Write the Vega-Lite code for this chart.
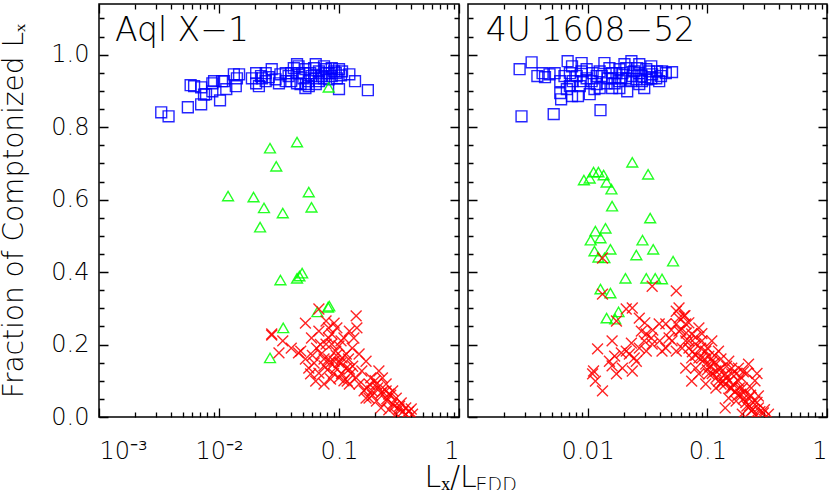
{
"$schema": "https://vega.github.io/schema/vega-lite/v6.json",
"padding": {"left": 0, "top": 3, "right": 2, "bottom": 0},
"background": "white",
"spacing": 9,
"bounds": "flush",
"datasets": {
"aql": [
{"x":0.0033,"y":0.841,"g":"s"},{"x":0.0038,"y":0.830,"g":"s"},{"x":0.0055,"y":0.855,"g":"s"},{"x":0.0071,"y":0.863,"g":"s"},{"x":0.0102,"y":0.874,"g":"s"},
{"x":0.0062,"y":0.913,"g":"s"},{"x":0.0071,"y":0.910,"g":"s"},{"x":0.0078,"y":0.891,"g":"s"},{"x":0.0088,"y":0.899,"g":"s"},{"x":0.0088,"y":0.921,"g":"s"},
{"x":0.011,"y":0.927,"g":"s"},{"x":0.0115,"y":0.905,"g":"s"},{"x":0.0138,"y":0.913,"g":"s"},{"x":0.0133,"y":0.946,"g":"s"},{"x":0.0147,"y":0.946,"g":"s"},
{"x":0.0141,"y":0.935,"g":"s"},{"x":0.0075,"y":0.890,"g":"s"},{"x":0.0058,"y":0.916,"g":"s"},{"x":0.0204,"y":0.949,"g":"s"},{"x":0.0204,"y":0.921,"g":"s"},
{"x":0.0215,"y":0.913,"g":"s"},{"x":0.0228,"y":0.935,"g":"s"},{"x":0.0245,"y":0.949,"g":"s"},{"x":0.0275,"y":0.960,"g":"s"},{"x":0.0296,"y":0.932,"g":"s"},
{"x":0.0325,"y":0.946,"g":"s"},{"x":0.036,"y":0.949,"g":"s"},{"x":0.038,"y":0.941,"g":"s"},{"x":0.040,"y":0.927,"g":"s"},{"x":0.042,"y":0.963,"g":"s"},
{"x":0.0447,"y":0.974,"g":"s"},{"x":0.046,"y":0.949,"g":"s"},{"x":0.0478,"y":0.919,"g":"s"},{"x":0.0505,"y":0.935,"g":"s"},{"x":0.0525,"y":0.960,"g":"s"},
{"x":0.053,"y":0.919,"g":"s"},{"x":0.0575,"y":0.949,"g":"s"},{"x":0.062,"y":0.963,"g":"s"},{"x":0.064,"y":0.935,"g":"s"},{"x":0.068,"y":0.954,"g":"s"},
{"x":0.072,"y":0.941,"g":"s"},{"x":0.078,"y":0.960,"g":"s"},{"x":0.082,"y":0.949,"g":"s"},{"x":0.087,"y":0.963,"g":"s"},{"x":0.094,"y":0.949,"g":"s"},
{"x":0.1,"y":0.960,"g":"s"},{"x":0.104,"y":0.943,"g":"s"},{"x":0.1,"y":0.905,"g":"s"},{"x":0.122,"y":0.946,"g":"s"},{"x":0.136,"y":0.927,"g":"s"},
{"x":0.174,"y":0.902,"g":"s"},{"x":0.036,"y":0.927,"g":"s"},{"x":0.0316,"y":0.921,"g":"s"},{"x":0.0245,"y":0.927,"g":"s"},{"x":0.0188,"y":0.935,"g":"s"},
{"x":0.0224,"y":0.941,"g":"s"},{"x":0.026,"y":0.938,"g":"s"},{"x":0.056,"y":0.927,"g":"s"},{"x":0.068,"y":0.927,"g":"s"},{"x":0.082,"y":0.932,"g":"s"},
{"x":0.087,"y":0.941,"g":"s"},{"x":0.096,"y":0.935,"g":"s"},{"x":0.064,"y":0.974,"g":"s"},{"x":0.075,"y":0.968,"g":"s"},{"x":0.046,"y":0.968,"g":"s"},
{"x":0.040,"y":0.949,"g":"s"},{"x":0.0505,"y":0.949,"g":"s"},{"x":0.059,"y":0.941,"g":"s"},{"x":0.079,"y":0.949,"g":"s"},{"x":0.091,"y":0.954,"g":"s"},
{"x":0.106,"y":0.954,"g":"s"},{"x":0.075,"y":0.935,"g":"s"},{"x":0.0447,"y":0.921,"g":"s"},{"x":0.056,"y":0.913,"g":"s"},{"x":0.064,"y":0.919,"g":"s"},
{"x":0.0525,"y":0.908,"g":"s"},{"x":0.0091,"y":0.927,"g":"s"},{"x":0.0106,"y":0.927,"g":"s"},
{"x":0.082,"y":0.910,"g":"t"},{"x":0.0266,"y":0.742,"g":"t"},{"x":0.0447,"y":0.759,"g":"t"},{"x":0.030,"y":0.692,"g":"t"},{"x":0.0119,"y":0.610,"g":"t"},
{"x":0.0194,"y":0.607,"g":"t"},{"x":0.0237,"y":0.577,"g":"t"},{"x":0.034,"y":0.563,"g":"t"},{"x":0.022,"y":0.524,"g":"t"},{"x":0.056,"y":0.621,"g":"t"},
{"x":0.059,"y":0.579,"g":"t"},{"x":0.0325,"y":0.378,"g":"t"},{"x":0.0447,"y":0.383,"g":"t"},{"x":0.0468,"y":0.389,"g":"t"},{"x":0.0493,"y":0.397,"g":"t"},
{"x":0.066,"y":0.290,"g":"t"},{"x":0.081,"y":0.303,"g":"t"},{"x":0.083,"y":0.306,"g":"t"},{"x":0.0343,"y":0.246,"g":"t"},{"x":0.0266,"y":0.163,"g":"t"},
{"x":0.0275,"y":0.229,"g":"x"},{"x":0.034,"y":0.210,"g":"x"},{"x":0.0316,"y":0.177,"g":"x"},{"x":0.040,"y":0.190,"g":"x"},{"x":0.0525,"y":0.259,"g":"x"},
{"x":0.068,"y":0.298,"g":"x"},{"x":0.048,"y":0.182,"g":"x"},{"x":0.059,"y":0.218,"g":"x"},{"x":0.068,"y":0.237,"g":"x"},{"x":0.082,"y":0.246,"g":"x"},
{"x":0.096,"y":0.246,"g":"x"},{"x":0.087,"y":0.229,"g":"x"},{"x":0.078,"y":0.201,"g":"x"},{"x":0.071,"y":0.174,"g":"x"},{"x":0.062,"y":0.149,"g":"x"},
{"x":0.056,"y":0.135,"g":"x"},{"x":0.068,"y":0.121,"g":"x"},{"x":0.082,"y":0.160,"g":"x"},{"x":0.094,"y":0.182,"g":"x"},{"x":0.104,"y":0.210,"g":"x"},
{"x":0.094,"y":0.135,"g":"x"},{"x":0.085,"y":0.105,"g":"x"},{"x":0.075,"y":0.091,"g":"x"},{"x":0.104,"y":0.149,"g":"x"},{"x":0.115,"y":0.174,"g":"x"},
{"x":0.122,"y":0.132,"g":"x"},{"x":0.139,"y":0.279,"g":"x"},{"x":0.141,"y":0.246,"g":"x"},{"x":0.133,"y":0.218,"g":"x"},{"x":0.129,"y":0.190,"g":"x"},
{"x":0.147,"y":0.174,"g":"x"},{"x":0.168,"y":0.154,"g":"x"},{"x":0.139,"y":0.108,"g":"x"},{"x":0.117,"y":0.099,"g":"x"},{"x":0.1,"y":0.108,"g":"x"},
{"x":0.155,"y":0.127,"g":"x"},{"x":0.184,"y":0.108,"g":"x"},{"x":0.215,"y":0.127,"g":"x"},{"x":0.23,"y":0.108,"g":"x"},{"x":0.205,"y":0.091,"g":"x"},
{"x":0.17,"y":0.080,"g":"x"},{"x":0.247,"y":0.091,"g":"x"},{"x":0.224,"y":0.066,"g":"x"},{"x":0.26,"y":0.063,"g":"x"},{"x":0.30,"y":0.052,"g":"x"},
{"x":0.28,"y":0.036,"g":"x"},{"x":0.33,"y":0.039,"g":"x"},{"x":0.36,"y":0.025,"g":"x"},{"x":0.40,"y":0.022,"g":"x"},{"x":0.316,"y":0.022,"g":"x"},
{"x":0.224,"y":0.025,"g":"x"},{"x":0.25,"y":0.044,"g":"x"},{"x":0.36,"y":0.008,"g":"x"},{"x":0.41,"y":0.008,"g":"x"},{"x":0.30,"y":0.008,"g":"x"},
{"x":0.205,"y":0.044,"g":"x"},{"x":0.178,"y":0.052,"g":"x"},{"x":0.162,"y":0.072,"g":"x"},{"x":0.064,"y":0.099,"g":"x"},{"x":0.058,"y":0.119,"g":"x"},
{"x":0.0525,"y":0.160,"g":"x"},{"x":0.046,"y":0.177,"g":"x"},{"x":0.11,"y":0.218,"g":"x"},{"x":0.122,"y":0.237,"g":"x"},{"x":0.078,"y":0.265,"g":"x"},
{"x":0.091,"y":0.259,"g":"x"},{"x":0.106,"y":0.163,"g":"x"},{"x":0.115,"y":0.135,"g":"x"},{"x":0.075,"y":0.141,"g":"x"},{"x":0.091,"y":0.154,"g":"x"},
{"x":0.1,"y":0.196,"g":"x"},{"x":0.082,"y":0.218,"g":"x"},{"x":0.087,"y":0.201,"g":"x"},{"x":0.122,"y":0.091,"g":"x"},{"x":0.147,"y":0.091,"g":"x"},
{"x":0.168,"y":0.052,"g":"x"},{"x":0.28,"y":0.072,"g":"x"},{"x":0.247,"y":0.072,"g":"x"},{"x":0.188,"y":0.072,"g":"x"},{"x":0.0275,"y":0.226,"g":"x"},
{"x":0.07,"y":0.20,"g":"x"},{"x":0.075,"y":0.16,"g":"x"},{"x":0.08,"y":0.13,"g":"x"},{"x":0.085,"y":0.15,"g":"x"},{"x":0.09,"y":0.12,"g":"x"},
{"x":0.095,"y":0.17,"g":"x"},{"x":0.1,"y":0.15,"g":"x"},{"x":0.105,"y":0.12,"g":"x"},{"x":0.11,"y":0.10,"g":"x"},{"x":0.12,"y":0.16,"g":"x"},
{"x":0.125,"y":0.12,"g":"x"},{"x":0.13,"y":0.14,"g":"x"},{"x":0.065,"y":0.19,"g":"x"},{"x":0.06,"y":0.17,"g":"x"},{"x":0.20,"y":0.10,"g":"x"},
{"x":0.21,"y":0.08,"g":"x"},{"x":0.23,"y":0.07,"g":"x"},{"x":0.25,"y":0.05,"g":"x"},{"x":0.27,"y":0.06,"g":"x"},{"x":0.29,"y":0.03,"g":"x"},
{"x":0.32,"y":0.03,"g":"x"},{"x":0.34,"y":0.015,"g":"x"},{"x":0.38,"y":0.015,"g":"x"},{"x":0.26,"y":0.02,"g":"x"},{"x":0.19,"y":0.06,"g":"x"},
{"x":0.18,"y":0.09,"g":"x"}
],
"u1608": [
{"x":0.0027,"y":0.960,"g":"s"},{"x":0.0034,"y":0.979,"g":"s"},{"x":0.0028,"y":0.830,"g":"s"},{"x":0.0052,"y":0.836,"g":"s"},{"x":0.0128,"y":0.847,"g":"s"},
{"x":0.0038,"y":0.941,"g":"s"},{"x":0.0044,"y":0.938,"g":"s"},{"x":0.0053,"y":0.949,"g":"s"},{"x":0.0059,"y":0.927,"g":"s"},{"x":0.0059,"y":0.894,"g":"s"},
{"x":0.006,"y":0.877,"g":"s"},{"x":0.0068,"y":0.982,"g":"s"},{"x":0.0074,"y":0.968,"g":"s"},{"x":0.0071,"y":0.913,"g":"s"},{"x":0.0074,"y":0.886,"g":"s"},
{"x":0.0083,"y":0.886,"g":"s"},{"x":0.0089,"y":0.977,"g":"s"},{"x":0.0098,"y":0.960,"g":"s"},{"x":0.0104,"y":0.891,"g":"s"},{"x":0.0081,"y":0.941,"g":"s"},
{"x":0.0091,"y":0.927,"g":"s"},{"x":0.0108,"y":0.927,"g":"s"},{"x":0.0119,"y":0.941,"g":"s"},{"x":0.0114,"y":0.905,"g":"s"},{"x":0.0138,"y":0.977,"g":"s"},
{"x":0.0152,"y":0.963,"g":"s"},{"x":0.0144,"y":0.921,"g":"s"},{"x":0.016,"y":0.935,"g":"s"},{"x":0.0174,"y":0.949,"g":"s"},{"x":0.016,"y":0.908,"g":"s"},
{"x":0.0191,"y":0.935,"g":"s"},{"x":0.021,"y":0.963,"g":"s"},{"x":0.0214,"y":0.899,"g":"s"},{"x":0.0232,"y":0.982,"g":"s"},{"x":0.0245,"y":0.954,"g":"s"},
{"x":0.027,"y":0.974,"g":"s"},{"x":0.0255,"y":0.932,"g":"s"},{"x":0.0281,"y":0.941,"g":"s"},{"x":0.0297,"y":0.908,"g":"s"},{"x":0.0309,"y":0.960,"g":"s"},
{"x":0.034,"y":0.968,"g":"s"},{"x":0.0346,"y":0.946,"g":"s"},{"x":0.038,"y":0.954,"g":"s"},{"x":0.041,"y":0.941,"g":"s"},{"x":0.0419,"y":0.954,"g":"s"},
{"x":0.045,"y":0.949,"g":"s"},{"x":0.0507,"y":0.952,"g":"s"},{"x":0.021,"y":0.935,"g":"s"},{"x":0.0232,"y":0.927,"g":"s"},{"x":0.0195,"y":0.949,"g":"s"},
{"x":0.0184,"y":0.927,"g":"s"},{"x":0.0168,"y":0.921,"g":"s"},{"x":0.0147,"y":0.935,"g":"s"},{"x":0.0131,"y":0.941,"g":"s"},{"x":0.0119,"y":0.919,"g":"s"},
{"x":0.0098,"y":0.935,"g":"s"},{"x":0.0086,"y":0.913,"g":"s"},{"x":0.0075,"y":0.927,"g":"s"},{"x":0.0064,"y":0.941,"g":"s"},{"x":0.0067,"y":0.905,"g":"s"},
{"x":0.027,"y":0.949,"g":"s"},{"x":0.0284,"y":0.927,"g":"s"},{"x":0.0315,"y":0.932,"g":"s"},{"x":0.034,"y":0.935,"g":"s"},{"x":0.0374,"y":0.935,"g":"s"},
{"x":0.0396,"y":0.927,"g":"s"},{"x":0.0327,"y":0.954,"g":"s"},{"x":0.0237,"y":0.941,"g":"s"},{"x":0.026,"y":0.963,"g":"s"},{"x":0.0203,"y":0.974,"g":"s"},
{"x":0.0184,"y":0.960,"g":"s"},{"x":0.016,"y":0.949,"g":"s"},{"x":0.0126,"y":0.954,"g":"s"},{"x":0.011,"y":0.949,"g":"s"},{"x":0.0089,"y":0.954,"g":"s"},
{"x":0.0071,"y":0.949,"g":"s"},{"x":0.0048,"y":0.946,"g":"s"},{"x":0.0042,"y":0.949,"g":"s"},{"x":0.0126,"y":0.908,"g":"s"},{"x":0.0184,"y":0.908,"g":"s"},
{"x":0.027,"y":0.919,"g":"s"},
{"x":0.0236,"y":0.703,"g":"t"},{"x":0.032,"y":0.670,"g":"t"},{"x":0.0112,"y":0.676,"g":"t"},{"x":0.0123,"y":0.676,"g":"t"},{"x":0.0093,"y":0.654,"g":"t"},
{"x":0.0104,"y":0.659,"g":"t"},{"x":0.0136,"y":0.668,"g":"t"},{"x":0.0144,"y":0.648,"g":"t"},{"x":0.0158,"y":0.629,"g":"t"},{"x":0.016,"y":0.582,"g":"t"},
{"x":0.0333,"y":0.549,"g":"t"},{"x":0.0116,"y":0.513,"g":"t"},{"x":0.0141,"y":0.521,"g":"t"},{"x":0.0106,"y":0.488,"g":"t"},{"x":0.0128,"y":0.494,"g":"t"},
{"x":0.0287,"y":0.488,"g":"t"},{"x":0.0114,"y":0.458,"g":"t"},{"x":0.0155,"y":0.463,"g":"t"},{"x":0.0353,"y":0.463,"g":"t"},{"x":0.0255,"y":0.447,"g":"t"},
{"x":0.0123,"y":0.441,"g":"t"},{"x":0.0138,"y":0.439,"g":"t"},{"x":0.0517,"y":0.430,"g":"t"},{"x":0.0207,"y":0.383,"g":"t"},{"x":0.0309,"y":0.383,"g":"t"},
{"x":0.0367,"y":0.383,"g":"t"},{"x":0.0418,"y":0.381,"g":"t"},{"x":0.0128,"y":0.353,"g":"t"},{"x":0.0155,"y":0.342,"g":"t"},{"x":0.0144,"y":0.273,"g":"t"},
{"x":0.0181,"y":0.290,"g":"t"},{"x":0.017,"y":0.270,"g":"t"},
{"x":0.0121,"y":0.188,"g":"x"},{"x":0.0112,"y":0.127,"g":"x"},{"x":0.0116,"y":0.099,"g":"x"},{"x":0.0133,"y":0.072,"g":"x"},{"x":0.011,"y":0.119,"g":"x"},
{"x":0.016,"y":0.210,"g":"x"},{"x":0.0168,"y":0.168,"g":"x"},{"x":0.016,"y":0.141,"g":"x"},{"x":0.0174,"y":0.119,"g":"x"},{"x":0.0236,"y":0.127,"g":"x"},
{"x":0.021,"y":0.182,"g":"x"},{"x":0.0232,"y":0.204,"g":"x"},{"x":0.0245,"y":0.163,"g":"x"},{"x":0.027,"y":0.273,"g":"x"},{"x":0.021,"y":0.298,"g":"x"},
{"x":0.0236,"y":0.301,"g":"x"},{"x":0.0309,"y":0.229,"g":"x"},{"x":0.0297,"y":0.210,"g":"x"},{"x":0.0346,"y":0.201,"g":"x"},{"x":0.0396,"y":0.257,"g":"x"},
{"x":0.045,"y":0.257,"g":"x"},{"x":0.0346,"y":0.361,"g":"x"},{"x":0.055,"y":0.348,"g":"x"},{"x":0.0133,"y":0.339,"g":"x"},{"x":0.0133,"y":0.439,"g":"x"},
{"x":0.055,"y":0.292,"g":"x"},{"x":0.058,"y":0.273,"g":"x"},{"x":0.0507,"y":0.210,"g":"x"},{"x":0.058,"y":0.237,"g":"x"},{"x":0.066,"y":0.257,"g":"x"},
{"x":0.074,"y":0.229,"g":"x"},{"x":0.085,"y":0.246,"g":"x"},{"x":0.0615,"y":0.190,"g":"x"},{"x":0.0702,"y":0.190,"g":"x"},{"x":0.080,"y":0.201,"g":"x"},
{"x":0.090,"y":0.210,"g":"x"},{"x":0.097,"y":0.182,"g":"x"},{"x":0.109,"y":0.210,"g":"x"},{"x":0.074,"y":0.163,"g":"x"},{"x":0.085,"y":0.163,"g":"x"},
{"x":0.066,"y":0.135,"g":"x"},{"x":0.080,"y":0.135,"g":"x"},{"x":0.097,"y":0.146,"g":"x"},{"x":0.109,"y":0.154,"g":"x"},{"x":0.124,"y":0.182,"g":"x"},
{"x":0.103,"y":0.119,"g":"x"},{"x":0.118,"y":0.127,"g":"x"},{"x":0.130,"y":0.135,"g":"x"},{"x":0.141,"y":0.119,"g":"x"},{"x":0.124,"y":0.099,"g":"x"},
{"x":0.151,"y":0.099,"g":"x"},{"x":0.16,"y":0.080,"g":"x"},{"x":0.182,"y":0.099,"g":"x"},{"x":0.221,"y":0.146,"g":"x"},{"x":0.214,"y":0.121,"g":"x"},
{"x":0.19,"y":0.063,"g":"x"},{"x":0.221,"y":0.052,"g":"x"},{"x":0.25,"y":0.044,"g":"x"},{"x":0.267,"y":0.025,"g":"x"},{"x":0.233,"y":0.017,"g":"x"},
{"x":0.294,"y":0.011,"g":"x"},{"x":0.214,"y":0.030,"g":"x"},{"x":0.174,"y":0.044,"g":"x"},{"x":0.151,"y":0.052,"g":"x"},{"x":0.141,"y":0.025,"g":"x"},
{"x":0.324,"y":0.008,"g":"x"},{"x":0.25,"y":0.008,"g":"x"},{"x":0.196,"y":0.008,"g":"x"},{"x":0.267,"y":0.058,"g":"x"},{"x":0.233,"y":0.080,"g":"x"},
{"x":0.130,"y":0.091,"g":"x"},{"x":0.118,"y":0.080,"g":"x"},{"x":0.097,"y":0.091,"g":"x"},{"x":0.055,"y":0.182,"g":"x"},{"x":0.0479,"y":0.218,"g":"x"},
{"x":0.0418,"y":0.182,"g":"x"},{"x":0.066,"y":0.210,"g":"x"},{"x":0.058,"y":0.301,"g":"x"},{"x":0.0638,"y":0.279,"g":"x"},{"x":0.055,"y":0.257,"g":"x"},
{"x":0.0666,"y":0.232,"g":"x"},{"x":0.090,"y":0.163,"g":"x"},{"x":0.103,"y":0.168,"g":"x"},{"x":0.085,"y":0.119,"g":"x"},{"x":0.074,"y":0.099,"g":"x"},
{"x":0.16,"y":0.135,"g":"x"},{"x":0.182,"y":0.135,"g":"x"},{"x":0.151,"y":0.154,"g":"x"},{"x":0.174,"y":0.119,"g":"x"},{"x":0.196,"y":0.080,"g":"x"},
{"x":0.16,"y":0.119,"g":"x"},{"x":0.0195,"y":0.135,"g":"x"},{"x":0.0223,"y":0.174,"g":"x"},{"x":0.0255,"y":0.154,"g":"x"},{"x":0.0281,"y":0.237,"g":"x"},
{"x":0.034,"y":0.218,"g":"x"},{"x":0.0309,"y":0.182,"g":"x"},{"x":0.027,"y":0.190,"g":"x"},{"x":0.0191,"y":0.177,"g":"x"},{"x":0.0152,"y":0.154,"g":"x"},
{"x":0.0174,"y":0.265,"g":"x"},
{"x":0.06,"y":0.24,"g":"x"},{"x":0.07,"y":0.21,"g":"x"},{"x":0.075,"y":0.18,"g":"x"},{"x":0.08,"y":0.17,"g":"x"},{"x":0.088,"y":0.19,"g":"x"},
{"x":0.095,"y":0.16,"g":"x"},{"x":0.10,"y":0.13,"g":"x"},{"x":0.105,"y":0.14,"g":"x"},{"x":0.11,"y":0.12,"g":"x"},{"x":0.115,"y":0.15,"g":"x"},
{"x":0.12,"y":0.11,"g":"x"},{"x":0.125,"y":0.13,"g":"x"},{"x":0.135,"y":0.10,"g":"x"},{"x":0.14,"y":0.09,"g":"x"},{"x":0.145,"y":0.11,"g":"x"},
{"x":0.155,"y":0.08,"g":"x"},{"x":0.165,"y":0.09,"g":"x"},{"x":0.17,"y":0.07,"g":"x"},{"x":0.18,"y":0.06,"g":"x"},{"x":0.185,"y":0.08,"g":"x"},
{"x":0.20,"y":0.05,"g":"x"},{"x":0.205,"y":0.07,"g":"x"},{"x":0.21,"y":0.04,"g":"x"},{"x":0.225,"y":0.03,"g":"x"},{"x":0.24,"y":0.02,"g":"x"},
{"x":0.26,"y":0.04,"g":"x"},{"x":0.275,"y":0.015,"g":"x"},{"x":0.30,"y":0.02,"g":"x"},{"x":0.23,"y":0.06,"g":"x"},{"x":0.19,"y":0.11,"g":"x"},
{"x":0.20,"y":0.125,"g":"x"},{"x":0.25,"y":0.10,"g":"x"},{"x":0.26,"y":0.12,"g":"x"},{"x":0.065,"y":0.28,"g":"x"},{"x":0.07,"y":0.26,"g":"x"},
{"x":0.08,"y":0.22,"g":"x"},{"x":0.09,"y":0.23,"g":"x"},{"x":0.10,"y":0.19,"g":"x"},{"x":0.115,"y":0.17,"g":"x"},{"x":0.13,"y":0.16,"g":"x"},
{"x":0.145,"y":0.14,"g":"x"},{"x":0.035,"y":0.24,"g":"x"},{"x":0.04,"y":0.21,"g":"x"},{"x":0.045,"y":0.19,"g":"x"},{"x":0.05,"y":0.24,"g":"x"},
{"x":0.03,"y":0.26,"g":"x"}
]
},
"hconcat": [
{
"width": 360, "height": 413,
"layer": [
{"data": {"name": "aql"},
"mark": {"type": "point", "filled": false, "clip": true, "strokeWidth": 1.4, "opacity": 0.85, "size": 118},
"encoding": {
"x": {"field": "x", "type": "quantitative", "scale": {"type": "log", "domain": [0.001, 1], "nice": false},
"axis": {"values": [0.001, 0.01, 0.1, 1], "labelExpr": "datum.value < 0.005 ? '10⁻³' : datum.value < 0.05 ? '10⁻²' : datum.value < 0.5 ? '0.1' : '1'", "grid": true, "gridDash": [9, 395, 9, 1000], "labelPadding": 22, "labelOverlap": false, "labelBound": false, "title": "Lₓ/L", "titleFontSize": 30, "titleX": 325, "titleY": 69, "titleAlign": "left", "titleBaseline": "alphabetic"}},
"y": {"field": "y", "type": "quantitative", "scale": {"domain": [0, 1.14], "nice": false, "zero": false},
"axis": {"values": [0, 0.2, 0.4, 0.6, 0.8, 1.0], "format": ".1f", "grid": true, "gridDash": [9, 342, 9, 1000], "labelPadding": 10, "labelOverlap": false, "labelBound": false, "title": "Fraction of Comptonized Lₓ", "titleFontSize": 28, "titlePadding": 22}},
"shape": {"field": "g", "type": "nominal", "scale": {"domain": ["s", "t", "x"], "range": ["square", "triangle-up", "M-1,-1L1,1M-1,1L1,-1"]}, "legend": null},
"color": {"field": "g", "type": "nominal", "scale": {"domain": ["s", "t", "x"], "range": ["#0000ff", "#00ff00", "#ff0000"]}, "legend": null}
}},
{"data": {"name": "aql"},
"mark": {"type": "point", "opacity": 0},
"encoding": {
"x": {"field": "x", "type": "quantitative", "scale": {"type": "log", "domain": [0.001, 1], "nice": false},
"axis": {"orient": "top", "values": [0.002,0.003,0.004,0.005,0.006,0.007,0.008,0.009,0.02,0.03,0.04,0.05,0.06,0.07,0.08,0.09,0.2,0.3,0.4,0.5,0.6,0.7,0.8,0.9], "labels": false, "grid": true, "gridDash": [5, 403, 5, 1000], "title": null}},
"y": {"field": "y", "type": "quantitative", "scale": {"domain": [0, 1.14], "nice": false, "zero": false},
"axis": {"orient": "right", "values": [0.05,0.1,0.15,0.25,0.3,0.35,0.45,0.5,0.55,0.65,0.7,0.75,0.85,0.9,0.95,1.05,1.1], "labels": false, "grid": true, "gridDash": [5, 350, 5, 1000], "title": null}}
}},
{"data": {"values": [{"label": "Aql X−1", "lx": 0.00136, "ly": 1.037}]},
"mark": {"type": "text", "align": "left", "baseline": "alphabetic", "fontSize": 33, "font": "DejaVu Sans", "fontWeight": 200, "color": "black"},
"encoding": {
"x": {"field": "lx", "type": "quantitative", "axis": null},
"y": {"field": "ly", "type": "quantitative", "axis": null},
"text": {"field": "label"}
}}
],
"resolve": {"axis": {"x": "independent", "y": "independent"}}
},
{
"width": 359, "height": 413,
"layer": [
{"data": {"name": "u1608"},
"mark": {"type": "point", "filled": false, "clip": true, "strokeWidth": 1.4, "opacity": 0.85, "size": 118},
"encoding": {
"x": {"field": "x", "type": "quantitative", "scale": {"type": "log", "domain": [0.001, 1], "nice": false},
"axis": {"values": [0.01, 0.1, 1], "labelExpr": "datum.value < 0.05 ? '0.01' : datum.value < 0.5 ? '0.1' : '1'", "grid": true, "gridDash": [9, 395, 9, 1000], "labelPadding": 22, "labelOverlap": false, "labelBound": false, "labelFlush": true, "title": "EDD", "titleFontSize": 19, "titleX": 7, "titleY": 73, "titleAlign": "left", "titleBaseline": "alphabetic"}},
"y": {"field": "y", "type": "quantitative", "scale": {"domain": [0, 1.14], "nice": false, "zero": false},
"axis": {"values": [0, 0.2, 0.4, 0.6, 0.8, 1.0], "labels": false, "grid": true, "gridDash": [9, 341, 9, 1000], "title": null}},
"shape": {"field": "g", "type": "nominal", "scale": {"domain": ["s", "t", "x"], "range": ["square", "triangle-up", "M-1,-1L1,1M-1,1L1,-1"]}, "legend": null},
"color": {"field": "g", "type": "nominal", "scale": {"domain": ["s", "t", "x"], "range": ["#0000ff", "#00ff00", "#ff0000"]}, "legend": null}
}},
{"data": {"name": "u1608"},
"mark": {"type": "point", "opacity": 0},
"encoding": {
"x": {"field": "x", "type": "quantitative", "scale": {"type": "log", "domain": [0.001, 1], "nice": false},
"axis": {"orient": "top", "values": [0.002,0.003,0.004,0.005,0.006,0.007,0.008,0.009,0.02,0.03,0.04,0.05,0.06,0.07,0.08,0.09,0.2,0.3,0.4,0.5,0.6,0.7,0.8,0.9], "labels": false, "grid": true, "gridDash": [5, 403, 5, 1000], "title": null}},
"y": {"field": "y", "type": "quantitative", "scale": {"domain": [0, 1.14], "nice": false, "zero": false},
"axis": {"orient": "right", "values": [0.05,0.1,0.15,0.25,0.3,0.35,0.45,0.5,0.55,0.65,0.7,0.75,0.85,0.9,0.95,1.05,1.1], "labels": false, "grid": true, "gridDash": [5, 349, 5, 1000], "title": null}}
}},
{"data": {"values": [{"label": "4U 1608−52", "lx": 0.00141, "ly": 1.037}]},
"mark": {"type": "text", "align": "left", "baseline": "alphabetic", "fontSize": 33, "font": "DejaVu Sans", "fontWeight": 200, "color": "black"},
"encoding": {
"x": {"field": "lx", "type": "quantitative", "axis": null},
"y": {"field": "ly", "type": "quantitative", "axis": null},
"text": {"field": "label"}
}}
],
"resolve": {"axis": {"x": "independent", "y": "independent"}}
}
],
"config": {
"view": {"stroke": "black", "strokeWidth": 1.5},
"font": "DejaVu Sans",
"axis": {"labelFont": "DejaVu Sans", "labelFontSize": 24, "labelColor": "black", "labelFontWeight": 200, "titleFont": "DejaVu Sans", "titleFontWeight": 200, "titleColor": "black", "ticks": false, "domain": false, "gridColor": "black", "gridOpacity": 1, "gridWidth": 1.3}
}
}
